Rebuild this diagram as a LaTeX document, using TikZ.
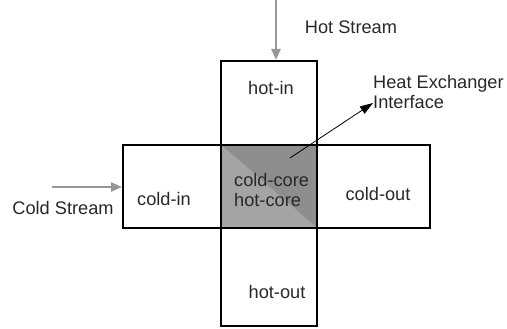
\documentclass[tikz,border=0pt]{standalone}
\usepackage{fontspec}
\setmainfont{Liberation Sans}
\usetikzlibrary{arrows.meta}
\definecolor{coredark}{RGB}{142,142,142}
\definecolor{corelight}{RGB}{164,164,164}
\definecolor{streamgray}{RGB}{150,150,150}
\definecolor{txt}{RGB}{40,40,40}
\begin{document}
\begin{tikzpicture}[x=1pt,y=-1pt,
  box/.style={draw=black, line width=2.9pt, line join=miter},
  lab/.style={font=\fontsize{18.2}{19.5}\selectfont, text=txt, inner sep=0pt},
  stream/.style={draw=streamgray, line width=2.2pt, -{Triangle[length=11pt,width=9pt]}},
  pointer/.style={draw=black, line width=0.8pt, -{Triangle[length=13pt,width=8.5pt]}},
]
\useasboundingbox (0,0) rectangle (507,329);
% core shading
\fill[corelight] (221,145) -- (317,228) -- (221,228) -- cycle;
\fill[coredark] (221,145) -- (317,145) -- (317,228) -- cycle;
% boxes
\draw[box] (221,61) rectangle (317,326);
\draw[box] (123,145) rectangle (430,228);
% region labels
\node[lab] (hotin) at (271,88) {hot-in};
\node[lab] (coldin) at (164,199) {cold-in};
\node[lab, anchor=west, align=left] (core) at (234,190) {cold-core\\hot-core};
\node[lab] (coldout) at (378,194) {cold-out};
\node[lab] (hotout) at (277,292) {hot-out};
% stream labels
\node[lab] (hotlabel) at (351,27) {Hot Stream};
\node[lab] (coldlabel) at (63,208) {Cold Stream};
\node[lab, anchor=west, align=left] (iflabel) at (373,92) {Heat Exchanger\\Interface};
% connectors
\coordinate (hotsrc) at (276,0);
\coordinate (hotdst) at (276,60);
\coordinate (coldsrc) at (52,187);
\coordinate (colddst) at (122,187);
\coordinate (ifsrc) at (290,158);
\coordinate (ifdst) at (373,103);
\draw[stream] (hotsrc) -- (hotdst);
\draw[stream] (coldsrc) -- (colddst);
\draw[pointer] (ifsrc) -- (ifdst);
\end{tikzpicture}
\end{document}
